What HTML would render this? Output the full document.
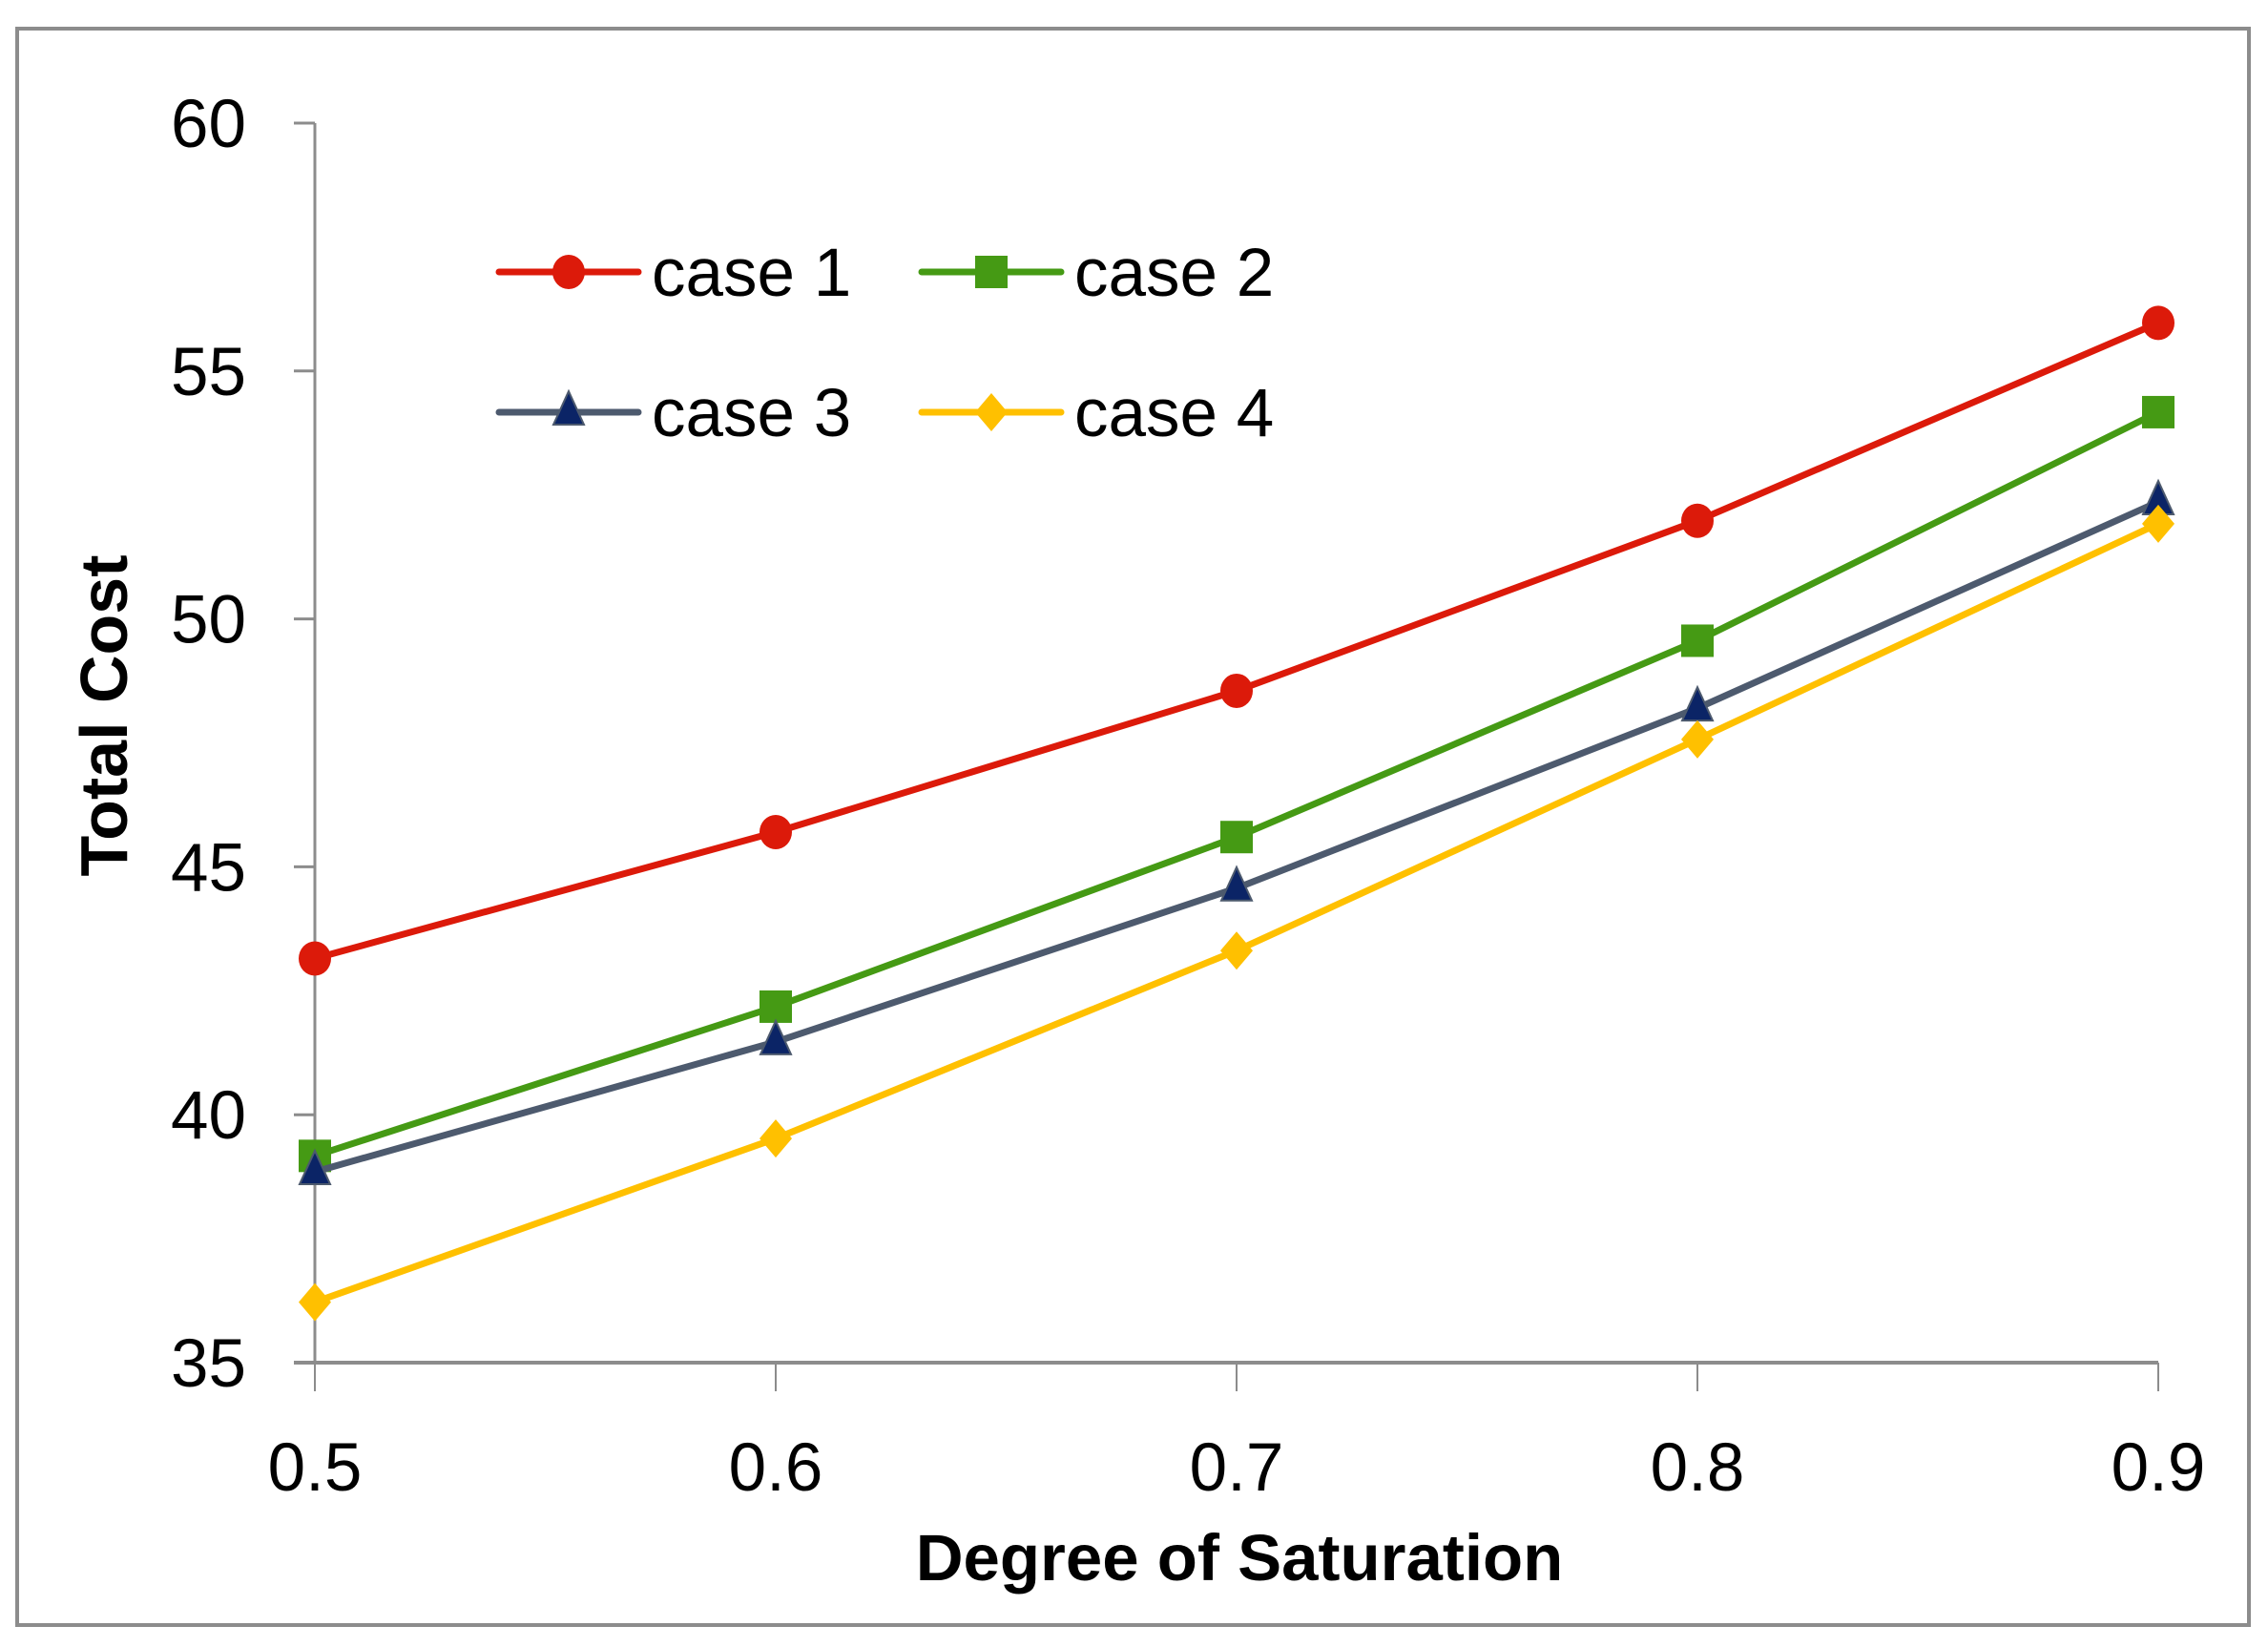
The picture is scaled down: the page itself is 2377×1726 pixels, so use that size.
<!DOCTYPE html>
<html><head><meta charset="utf-8"><style>
html,body{margin:0;padding:0;background:#fff}
svg{display:block}
text{font-family:"Liberation Sans",Arial,sans-serif;fill:#000}
</style></head><body>
<svg id="chart" width="2377" height="1726" viewBox="0 0 2377 1726" xmlns="http://www.w3.org/2000/svg">
<rect x="18" y="30" width="2339" height="1673" fill="#fff" stroke="#8c8c8c" stroke-width="4"/>
<g id="axes"></g>
<g id="series"></g>
<g id="legend"></g>
<text transform="translate(133,750) rotate(-90)" text-anchor="middle" font-size="70" font-weight="bold">Total Cost</text>
<text x="1299" y="1656" text-anchor="middle" font-size="69" font-weight="bold">Degree of Saturation</text>
</svg>
<script>
const categories = [0.5, 0.6, 0.7, 0.8, 0.9];
const xTickLabels = ["0.5", "0.6", "0.7", "0.8", "0.9"];
const yTicks = [35, 40, 45, 50, 55, 60];
const seriesNames = ["case 1", "case 2", "case 3", "case 4"];
const case1 = [43.15, 45.7, 48.55, 51.98, 55.97];
const case2 = [39.17, 42.18, 45.6, 49.56, 54.17];
const case3 = [38.85, 41.47, 44.57, 48.2, 52.36];
const case4 = [36.22, 39.52, 43.31, 47.57, 51.92];

const NS = "http://www.w3.org/2000/svg";
const X0 = 330, X1 = 2262, Y0 = 1428, Y1 = 129;
function xs(v){ return X0 + (v - 0.5) / 0.4 * (X1 - X0); }
function ys(v){ return Y0 - (v - 35) / 25 * (Y0 - Y1); }
function mk(tag, attrs, parent){ const e = document.createElementNS(NS, tag); for (const k in attrs) e.setAttribute(k, attrs[k]); parent.appendChild(e); return e; }

const axes = document.getElementById('axes');
const axisColor = "#8c8c8c";
let yl = mk('line', {x1:X0, y1:Y1, x2:X0, y2:Y0, stroke:axisColor, 'stroke-width':3}, axes);


let xl = mk('line', {x1:X0-22, y1:Y0, x2:X1, y2:Y0, stroke:axisColor, 'stroke-width':4}, axes);


yTicks.forEach(t => {
  const tk = mk('line', {x1:X0-22, y1:ys(t), x2:X0, y2:ys(t), stroke:axisColor, 'stroke-width':3}, axes);
  
  
  const lb = mk('text', {x:258, y:ys(t)+25, 'text-anchor':'end', 'font-size':71}, axes);
  lb.textContent = String(t);
  
  
});
categories.forEach((c, i) => {
  const tk = mk('line', {x1:xs(c), y1:Y0, x2:xs(c), y2:Y0+30, stroke:axisColor, 'stroke-width':2}, axes);
  
  
  const lb = mk('text', {x:xs(c), y:1562, 'text-anchor':'middle', 'font-size':71}, axes);
  lb.textContent = xTickLabels[i];
  
  
});

const styles = [
  {line:"#dc1a0a", fill:"#dc1a0a", m:"circle"},
  {line:"#459a14", fill:"#459a14", m:"square"},
  {line:"#4d5a6e", fill:"#0b2466", m:"triangle"},
  {line:"#ffc000", fill:"#ffc000", m:"diamond"}
];
function marker(g, type, x, y, fill){
  let e;
  if (type === "circle") e = mk('ellipse', {cx:x, cy:y, rx:17, ry:18, fill:fill}, g);
  else if (type === "square") e = mk('rect', {x:x-17, y:y-17, width:34, height:34, fill:fill}, g);
  else if (type === "triangle") e = mk('polygon', {points:`${x},${y-22} ${x+16},${y+13} ${x-16},${y+13}`, fill:fill, stroke:"#4d5a6e", 'stroke-width':2}, g);
  else e = mk('polygon', {points:`${x},${y-20} ${x+17},${y} ${x},${y+20} ${x-17},${y}`, fill:fill}, g);
  return e;
}
const sg = document.getElementById('series');
[case1, case2, case3, case4].forEach((vals, si) => {
  const st = styles[si];
  const g = mk('g', {}, sg);
  
  
  const pts = vals.map((v, i) => xs(categories[i]) + ',' + ys(v)).join(' ');
  const pl = mk('polyline', {points:pts, fill:'none', stroke:st.line, 'stroke-width':7, 'stroke-linejoin':'round'}, g);
  
  
  vals.forEach((v, i) => {
    const m = marker(g, st.m, xs(categories[i]), ys(v), st.fill);
    
    
  });
});

const lg = document.getElementById('legend');
const legPos = [[523,285],[966,285],[523,432],[966,432]];
seriesNames.forEach((n, i) => {
  const [lx, ly] = legPos[i];
  const st = styles[i];
  const g = mk('g', {}, lg);
  
  
  mk('line', {x1:lx, y1:ly, x2:lx+146, y2:ly, stroke:st.line, 'stroke-width':7, 'stroke-linecap':'round'}, g);
  marker(g, st.m, lx+73, ly, st.fill);
  const t = mk('text', {x:lx+160, y:ly+25, 'font-size':71}, g);
  t.textContent = n;
});
</script>
</body></html>
